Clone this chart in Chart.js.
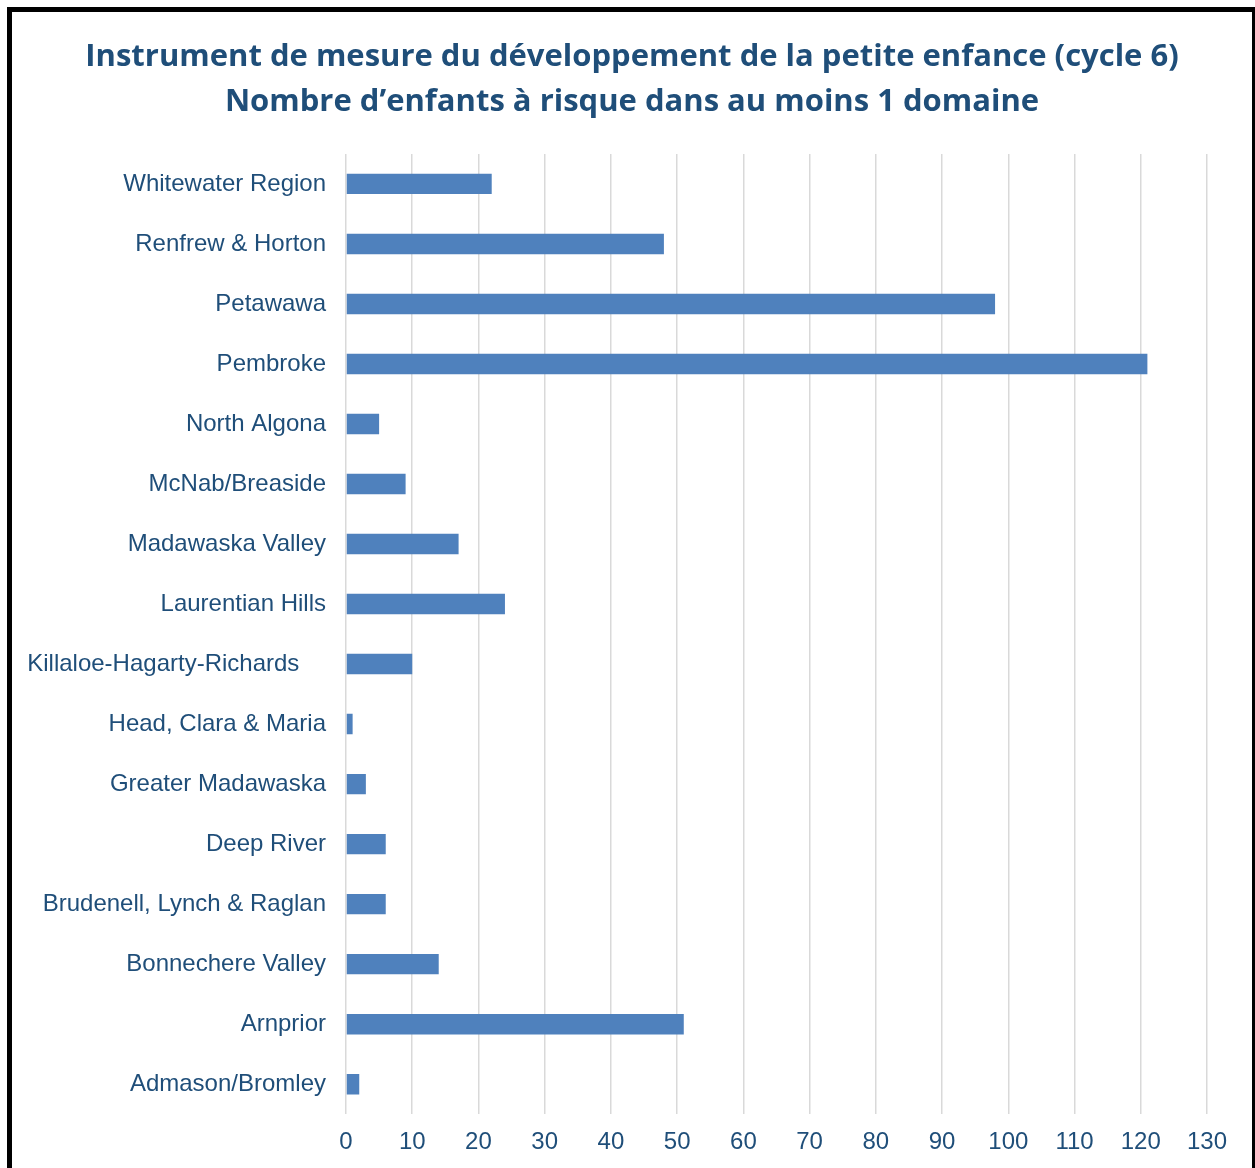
<!DOCTYPE html>
<html>
<head>
<meta charset="utf-8">
<script src="https://cdn.jsdelivr.net/npm/chart.js@4"></script>
<style>
  html, body { margin: 0; background: #fff; overflow: hidden; width: 1255px; height: 1168px; }
  #cadre {
    position: absolute; left: 7px; top: 7px; width: 1240px; height: 1180px;
    border-left: 5px solid #000; border-top: 5px solid #000; border-right: 3px solid #000;
    pointer-events: none;
  }
  canvas { position: absolute; left: 0; top: 0; }
</style>
</head>
<body>
<canvas id="chartEnfantsRisque" width="1264" height="1181"></canvas>
<div id="cadre"></div>
<script>
const communautes = [
    "Whitewater Region",
    "Renfrew & Horton",
    "Petawawa",
    "Pembroke",
    "North Algona",
    "McNab/Breaside",
    "Madawaska Valley",
    "Laurentian Hills",
    "Killaloe-Hagarty-Richards    ",
    "Head, Clara & Maria",
    "Greater Madawaska",
    "Deep River",
    "Brudenell, Lynch & Raglan",
    "Bonnechere Valley",
    "Arnprior",
    "Admason/Bromley"
];

const enfantsARisque = [22, 48, 98, 121, 5, 9, 17, 24, 10, 1, 3, 6, 6, 14, 51, 2];

const titre = [
    "Instrument de mesure du développement de la petite enfance (cycle 6)",
    "Nombre d’enfants à risque dans au moins 1 domaine"
];

const bleuTexte = "#1F4E79";

document.addEventListener("DOMContentLoaded", () => {
    const ctx = document.getElementById("chartEnfantsRisque");

    new Chart(ctx, {
        type: "bar",
        data: {
            labels: communautes,
            datasets: [{
                label: "Enfants à risque",
                data: enfantsARisque,
                backgroundColor: "#4F81BD",
                barPercentage: 0.34,
                categoryPercentage: 1
            }]
        },
        options: {
            indexAxis: "y",
            responsive: false,
            devicePixelRatio: 1,
            animation: false,
            layout: {
                padding: { top: 12, right: 0, bottom: 10, left: 0 }
            },
            plugins: {
                legend: { display: false },
                tooltip: { enabled: false },
                title: {
                    display: true,
                    text: titre,
                    color: bleuTexte,
                    font: { family: "Open Sans", size: 31, weight: "bold", lineHeight: 1.45 },
                    padding: { top: 23, bottom: 29 }
                }
            },
            scales: {
                x: {
                    min: 0,
                    max: 130,
                    ticks: {
                        stepSize: 10,
                        color: bleuTexte,
                        font: { family: "Liberation Sans", size: 24 },
                        padding: 14
                    },
                    grid: {
                        color: "#D9D9D9",
                        lineWidth: 1.5,
                        drawTicks: false
                    },
                    border: { display: false }
                },
                y: {
                    afterFit: (scale) => { scale.width = 346; },
                    ticks: {
                        color: bleuTexte,
                        font: { family: "Liberation Sans", size: 24 },
                        padding: 20
                    },
                    grid: { display: false, drawTicks: false },
                    border: { display: false }
                },
                // marge droite vide pour centrer le titre comme dans l'original
                margeDroite: {
                    type: "linear",
                    position: "right",
                    afterFit: (scale) => { scale.width = 57; },
                    ticks: { display: false },
                    grid: { display: false, drawTicks: false },
                    border: { display: false }
                }
            }
        }
    });
});
</script>
</body>
</html>
